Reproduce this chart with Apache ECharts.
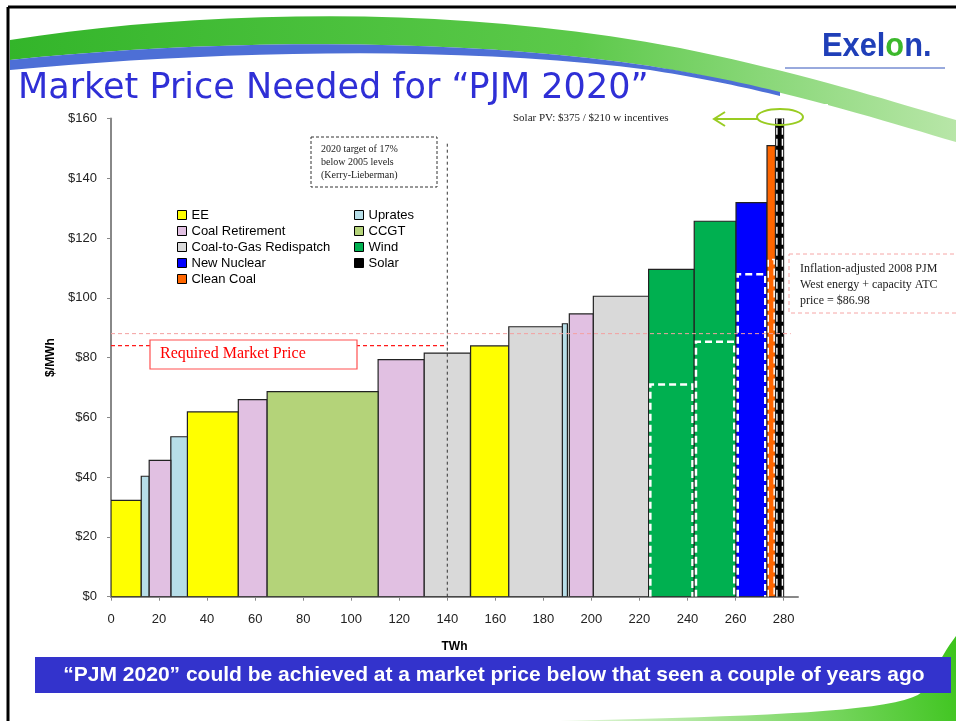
<!DOCTYPE html>
<html>
<head>
<meta charset="utf-8">
<script src="https://cdn.jsdelivr.net/npm/echarts@6/dist/echarts.min.js"></script>
<style>
  html, body { margin: 0; padding: 0; background: #fff; }
  #chart { width: 956px; height: 721px; }
</style>
</head>
<body>
<div id="chart"></div>
<script>
// supply curve blocks: type, TWh start/end, $/MWh price, price with incentives
const blockType = ['EE', 'Uprates', 'Coal Retirement', 'Uprates', 'EE', 'Coal Retirement', 'CCGT',
  'Coal Retirement', 'Coal-to-Gas Redispatch', 'EE', 'Coal-to-Gas Redispatch', 'Uprates', 'Coal Retirement',
  'Coal-to-Gas Redispatch', 'Wind', 'Wind', 'New Nuclear', 'Clean Coal', 'Solar']
const blockStart = [0, 12.6, 15.9, 24.9, 31.8, 53.0, 65.0, 111.2, 130.4, 149.7, 165.6, 187.9, 190.8, 200.8, 223.8, 242.8, 260.2, 273.1, 276.7]
const blockEnd = [12.6, 15.9, 24.9, 31.8, 53.0, 65.0, 111.2, 130.4, 149.6, 165.6, 187.9, 190.0, 200.8, 223.8, 242.8, 260.2, 273.1, 276.6, 280.0]
const blockPrice = [32.2, 40.3, 45.6, 53.5, 61.8, 65.9, 68.6, 79.3, 81.5, 83.9, 90.3, 91.3, 94.6, 100.5, 109.5, 125.6, 131.8, 150.9, 375]
const incentivePrice = [null, null, null, null, null, null, null, null, null, null, null, null, null, null, 71.0, 85.3, 107.9, 112.8, 210]

const legendLeft = ['EE', 'Coal Retirement', 'Coal-to-Gas Redispatch', 'New Nuclear', 'Clean Coal']
const legendRight = ['Uprates', 'CCGT', 'Wind', 'Solar']
const typeColors = {
  'EE': '#ffff00',
  'Uprates': '#b7dee8',
  'Coal Retirement': '#e1c0e2',
  'Coal-to-Gas Redispatch': '#d9d9d9',
  'CCGT': '#b4d379',
  'Wind': '#00b050',
  'New Nuclear': '#0000ff',
  'Clean Coal': '#ff6600',
  'Solar': '#000000'
}

const requiredPrice = 84
const inflationPrice = 88
const targetTWh = 140
const xTicks = [0, 20, 40, 60, 80, 100, 120, 140, 160, 180, 200, 220, 240, 260, 280]

const serif = 'Liberation Serif'
const sans = 'Liberation Sans'

function renderBlock(params, api) {
  const x0 = api.value(0), x1 = api.value(1), p = api.value(2), inc = api.value(3)
  const a = api.coord([x0, 0])
  const b = api.coord([x1, p])
  const w = b[0] - a[0]
  const children = [{
    type: 'rect',
    shape: { x: a[0], y: b[1], width: w, height: a[1] - b[1] },
    style: { fill: api.visual('color'), stroke: '#222', lineWidth: 1.2 }
  }]
  if (!isNaN(inc)) {
    // dashed white outline marking the price with incentives
    const c = api.coord([x1, inc])
    const lw = Math.min(2.5, w * 0.18)
    const l = a[0] + lw / 2 + 0.5, r = b[0] - lw / 2 - 0.5
    children.push({
      type: 'polyline',
      shape: { points: [[l, a[1]], [l, c[1]], [r, c[1]], [r, a[1]]] },
      style: { fill: 'none', stroke: '#fff', lineWidth: lw, lineDash: [7, 4] }
    })
  }
  return { type: 'group', children: children }
}

const blockSeries = Object.keys(typeColors).map(t => ({
  name: t,
  type: 'custom',
  clip: true,
  itemStyle: { color: typeColors[t] },
  renderItem: renderBlock,
  encode: { x: [0, 1], y: 2 },
  data: blockType.map((bt, i) => bt === t ? [blockStart[i], blockEnd[i], blockPrice[i], incentivePrice[i] == null ? '-' : incentivePrice[i]] : null).filter(d => d)
}))

const legendBase = {
  orient: 'vertical',
  itemGap: 0,
  itemWidth: 9,
  itemHeight: 9,
  icon: 'rect',
  padding: 0,
  selectedMode: false,
  itemStyle: { borderColor: '#000', borderWidth: 1 },
  textStyle: { fontFamily: sans, fontSize: 13, color: '#000', lineHeight: 16 }
}

function lin(x, y, x2, y2, stops) {
  return { type: 'linear', x: x, y: y, x2: x2, y2: y2, colorStops: stops }
}

// sample a chain of cubic bezier segments into polygon points (slide swoosh decoration)
function bez(start, segs) {
  const pts = [start]
  let p0 = start
  segs.forEach(s => {
    for (let i = 1; i <= 20; i++) {
      const t = i / 20, u = 1 - t
      pts.push([
        u * u * u * p0[0] + 3 * u * u * t * s[0][0] + 3 * u * t * t * s[1][0] + t * t * t * s[2][0],
        u * u * u * p0[1] + 3 * u * u * t * s[0][1] + 3 * u * t * t * s[1][1] + t * t * t * s[2][1]
      ])
    }
    p0 = s[2]
  })
  return pts
}

const swooshGreen = bez([10, 40], [[[200, 10], [450, 4], [680, 48]], [[800, 72], [900, 104], [956, 120]]])
  .concat(bez([956, 142], [[[880, 120], [790, 90], [650, 66]], [[450, 36], [200, 40], [10, 60]]]))
const swooshBlue = bez([10, 60], [[[200, 40], [450, 36], [650, 66]], [[700, 74], [740, 82], [780, 92]]])
  .concat(bez([780, 96], [[[740, 86], [700, 78], [650, 70]], [[450, 44], [200, 52], [10, 70]]]))
const swooshBottom = bez([560, 721], [[[760, 716], [900, 712], [922, 692]], [[935, 670], [945, 650], [956, 636]]])
  .concat([[956, 721]])

const chart = echarts.init(document.getElementById('chart'))

chart.setOption({
  animation: false,
  backgroundColor: '#fff',
  grid: { left: 111, right: 158, top: 118.4, bottom: 124.3 },
  legend: [
    Object.assign({ data: legendLeft, left: 177, top: 207 }, legendBase),
    Object.assign({ data: legendRight, left: 354, top: 207 }, legendBase)
  ],
  xAxis: {
    type: 'value', min: 0, max: 286,
    name: 'TWh', nameLocation: 'middle', nameGap: 44,
    nameTextStyle: { fontFamily: sans, fontSize: 12, fontWeight: 'bold', color: '#000' },
    axisLine: { lineStyle: { color: '#888', width: 2 } },
    axisTick: { show: true, length: 4, customValues: xTicks, lineStyle: { color: '#888' } },
    axisLabel: { customValues: xTicks, margin: 16, fontFamily: sans, fontSize: 13, color: '#222' },
    splitLine: { show: false }
  },
  yAxis: {
    type: 'value', min: 0, max: 160, interval: 20,
    name: '$/MWh', nameLocation: 'middle', nameGap: 47, nameRotate: 90,
    nameTextStyle: { fontFamily: sans, fontSize: 12, fontWeight: 'bold', color: '#000' },
    axisLine: { show: true, lineStyle: { color: '#888', width: 2 } },
    axisTick: { show: true, length: 4, lineStyle: { color: '#888' } },
    axisLabel: { margin: 14, fontFamily: sans, fontSize: 13, color: '#222', formatter: v => '$' + v },
    splitLine: { show: false }
  },
  series: blockSeries.concat([
    {
      type: 'line', silent: true, symbol: 'none', z: 5, color: '#f4a0a0',
      data: [[0, inflationPrice], [283, inflationPrice]],
      lineStyle: { color: '#f4a0a0', width: 1, type: [4, 3] }
    },
    {
      type: 'line', silent: true, symbol: 'none', z: 5, color: '#ff1a1a',
      data: [[0, requiredPrice], [targetTWh, requiredPrice]],
      lineStyle: { color: '#ff1a1a', width: 1.2, type: [4, 3] }
    },
    {
      type: 'line', silent: true, symbol: 'none', z: 5, color: '#333',
      data: [[targetTWh, 0], [targetTWh, 152]],
      lineStyle: { color: '#333', width: 1, type: [3, 3] }
    }
  ]),
  graphic: [
    // slide decoration
    {
      type: 'polygon', z: -10, shape: { points: swooshGreen },
      style: { fill: lin(0, 0, 1, 0, [{ offset: 0, color: '#33b52a' }, { offset: 0.6, color: '#5cc94a' }, { offset: 1, color: '#b8e6a8' }]) }
    },
    { type: 'polygon', z: -9, shape: { points: swooshBlue }, style: { fill: '#4d6fd6' } },
    {
      type: 'polygon', z: -10, shape: { points: swooshBottom },
      style: { fill: lin(0, 1, 1, 0, [{ offset: 0, color: '#e6f7dd' }, { offset: 1, color: '#3cc41c' }]) }
    },
    { type: 'rect', z: -8, shape: { x: 20, y: 104, width: 808, height: 547 }, style: { fill: '#fff' } },
    { type: 'line', z: 10, shape: { x1: 8, y1: 7, x2: 956, y2: 7 }, style: { stroke: '#000', lineWidth: 3 } },
    { type: 'line', z: 10, shape: { x1: 8, y1: 7, x2: 8, y2: 721 }, style: { stroke: '#000', lineWidth: 3 } },
    // logo
    {
      type: 'text', x: 822, y: 64, z: 10, scaleX: 1.1, scaleY: 1.2,
      style: {
        text: '{a|Exel}{b|o}{a|n.}',
        verticalAlign: 'bottom',
        rich: {
          a: { fontFamily: sans, fontSize: 28, fontWeight: 'bold', fill: '#1f3fb8' },
          b: { fontFamily: sans, fontSize: 28, fontWeight: 'bold', fill: '#3cb82c' }
        }
      }
    },
    { type: 'line', z: 10, shape: { x1: 785, y1: 68, x2: 945, y2: 68 }, style: { stroke: '#3355bb', lineWidth: 1 } },
    // title
    {
      type: 'text', left: 18, top: 71, z: 10,
      style: { text: 'Market Price Needed for \u201CPJM 2020\u201D', fontFamily: 'DejaVu Sans', fontSize: 35, fill: '#2f2fd6' }
    },
    // annotations
    {
      type: 'rect', z: 100, shape: { x: 311, y: 137, width: 126, height: 50 },
      style: { fill: '#fff', stroke: '#333', lineWidth: 1, lineDash: [3, 2] }
    },
    {
      type: 'text', z: 101, left: 321, top: 143,
      style: { text: '2020 target of 17%\nbelow 2005 levels\n(Kerry-Lieberman)', fontFamily: serif, fontSize: 10, lineHeight: 13, fill: '#222' }
    },
    {
      type: 'rect', z: 100, shape: { x: 150, y: 340, width: 207, height: 29 },
      style: { fill: '#fff', stroke: '#ff5050', lineWidth: 1.2 }
    },
    {
      type: 'text', z: 101, left: 160, top: 346,
      style: { text: 'Required Market Price', fontFamily: serif, fontSize: 16, fill: '#ff0000' }
    },
    {
      type: 'rect', z: 100, shape: { x: 789, y: 254, width: 180, height: 59 },
      style: { fill: '#fff', stroke: '#f6a6a6', lineWidth: 1, lineDash: [4, 3] }
    },
    {
      type: 'text', z: 101, left: 800, top: 261,
      style: { text: 'Inflation-adjusted 2008 PJM\nWest energy + capacity ATC\nprice = $86.98', fontFamily: serif, fontSize: 12, lineHeight: 16, fill: '#222' }
    },
    {
      type: 'text', z: 101, left: 513, top: 113,
      style: { text: 'Solar PV: $375 / $210 w incentives', fontFamily: serif, fontSize: 11, fill: '#222' }
    },
    { type: 'ellipse', z: 101, shape: { cx: 780, cy: 117, rx: 23, ry: 8 }, style: { fill: 'none', stroke: '#99cc22', lineWidth: 2 } },
    {
      type: 'polyline', z: 101, shape: { points: [[757, 119], [714, 119]] },
      style: { stroke: '#99cc22', lineWidth: 2, fill: 'none' }
    },
    {
      type: 'polyline', z: 101, shape: { points: [[725, 112], [714, 119], [725, 126]] },
      style: { stroke: '#99cc22', lineWidth: 2, fill: 'none' }
    },
    // banner
    { type: 'rect', z: 10, shape: { x: 35, y: 657, width: 916, height: 36 }, style: { fill: '#3333cc' } },
    {
      type: 'text', z: 11, x: 494, y: 675,
      style: {
        text: '\u201CPJM 2020\u201D could be achieved at a market price below that seen a couple of years ago',
        align: 'center', verticalAlign: 'middle',
        fontFamily: sans, fontSize: 21, fontWeight: 'bold', fill: '#fff'
      }
    }
  ]
})
</script>
</body>
</html>
